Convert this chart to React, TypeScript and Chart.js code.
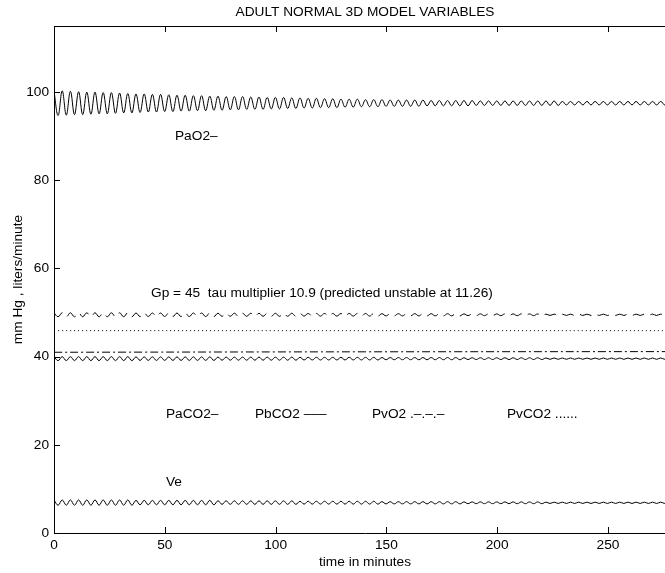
import { useEffect, useRef } from "react";
import { Chart, registerables } from "chart.js";

Chart.register(...registerables);

// ---- data (time in minutes, values in mm Hg or l/min) ----
// samples are taken at every half-cycle (successive peak / trough) of the oscillation
const HALF_CYCLE_MIN = 1.85;

const paO2 = [
  100.2, 94.7, 100.3, 94.8, 100.2, 94.9, 100.1, 94.9, 100.0, 95.0,
  100.0, 95.1, 99.9, 95.1, 99.9, 95.2, 99.8, 95.3, 99.7, 95.3,
  99.6, 95.4, 99.6, 95.5, 99.5, 95.5, 99.5, 95.6, 99.4, 95.6,
  99.3, 95.7, 99.3, 95.7, 99.2, 95.8, 99.2, 95.8, 99.1, 95.9,
  99.1, 95.9, 99.0, 96.0, 99.0, 96.0, 99.0, 96.1, 98.9, 96.1,
  98.9, 96.1, 98.8, 96.2, 98.8, 96.2, 98.8, 96.3, 98.7, 96.3,
  98.7, 96.4, 98.6, 96.4, 98.6, 96.5, 98.5, 96.5, 98.5, 96.5,
  98.4, 96.6, 98.4, 96.6, 98.4, 96.7, 98.3, 96.7, 98.3, 96.7,
  98.3, 96.8, 98.2, 96.8, 98.2, 96.8, 98.2, 96.8, 98.2, 96.8,
  98.2, 96.9, 98.1, 96.9, 98.1, 96.9, 98.1, 96.9, 98.1, 96.9,
  98.1, 96.9, 98.1, 97.0, 98.0, 97.0, 98.0, 97.0, 98.0, 97.0,
  98.0, 97.0, 98.0, 97.0, 98.0, 97.0, 98.0, 97.0, 98.0, 97.0,
  98.0, 97.0, 98.0, 97.0, 97.9, 97.1, 97.9, 97.1, 97.9, 97.1,
  97.9, 97.1, 97.9, 97.1, 97.9, 97.1, 97.9, 97.1, 97.9, 97.1,
  97.9, 97.1, 97.9, 97.1, 97.9, 97.1, 97.9, 97.1, 97.9, 97.1,
  97.9, 97.1, 97.85,
];

const pbCO2 = [
  49.95, 49.05, 49.95, 49.05, 49.95, 49.05, 49.95, 49.05, 49.95, 49.05,
  49.95, 49.05, 49.95, 49.05, 49.95, 49.05, 49.95, 49.05, 49.95, 49.05,
  49.9, 49.1, 49.9, 49.1, 49.9, 49.1, 49.9, 49.1, 49.9, 49.1,
  49.9, 49.1, 49.9, 49.1, 49.9, 49.1, 49.9, 49.1, 49.9, 49.1,
  49.85, 49.15, 49.85, 49.15, 49.85, 49.15, 49.85, 49.15, 49.85, 49.15,
  49.85, 49.15, 49.85, 49.15, 49.85, 49.15, 49.85, 49.15, 49.85, 49.15,
  49.8, 49.2, 49.8, 49.2, 49.8, 49.2, 49.8, 49.2, 49.8, 49.2,
  49.8, 49.2, 49.8, 49.2, 49.8, 49.2, 49.8, 49.2, 49.8, 49.2,
  49.75, 49.25, 49.75, 49.25, 49.75, 49.25, 49.75, 49.25, 49.75, 49.25,
  49.75, 49.25, 49.75, 49.25, 49.75, 49.25, 49.75, 49.25, 49.75, 49.25,
  49.7, 49.3, 49.7, 49.3, 49.7, 49.3, 49.7, 49.3, 49.7, 49.3,
  49.7, 49.3, 49.7, 49.3, 49.7, 49.3, 49.7, 49.3, 49.7, 49.3,
  49.65, 49.35, 49.65, 49.35, 49.65, 49.35, 49.65, 49.35, 49.65, 49.35,
  49.65, 49.35, 49.65, 49.35, 49.65, 49.35, 49.65, 49.35, 49.65, 49.35,
  49.65, 49.35, 49.65, 49.35, 49.65, 49.35, 49.65, 49.35, 49.65, 49.35,
  49.65, 49.35, 49.65,
];

const paCO2 = [
  40.0, 39.1, 40.0, 39.1, 40.0, 39.1, 40.0, 39.1, 40.0, 39.1,
  40.0, 39.1, 40.0, 39.1, 40.0, 39.1, 40.0, 39.1, 40.0, 39.1,
  39.95, 39.15, 39.95, 39.15, 39.95, 39.15, 39.95, 39.15, 39.95, 39.15,
  39.95, 39.15, 39.95, 39.15, 39.95, 39.15, 39.95, 39.15, 39.95, 39.15,
  39.9, 39.2, 39.9, 39.2, 39.9, 39.2, 39.9, 39.2, 39.9, 39.2,
  39.9, 39.2, 39.9, 39.2, 39.9, 39.2, 39.9, 39.2, 39.9, 39.2,
  39.85, 39.25, 39.85, 39.25, 39.85, 39.25, 39.85, 39.25, 39.85, 39.25,
  39.85, 39.25, 39.85, 39.25, 39.85, 39.25, 39.85, 39.25, 39.85, 39.25,
  39.8, 39.3, 39.8, 39.3, 39.8, 39.3, 39.8, 39.3, 39.8, 39.3,
  39.8, 39.3, 39.8, 39.3, 39.8, 39.3, 39.8, 39.3, 39.8, 39.3,
  39.75, 39.35, 39.75, 39.35, 39.75, 39.35, 39.75, 39.35, 39.75, 39.35,
  39.75, 39.35, 39.75, 39.35, 39.75, 39.35, 39.75, 39.35, 39.75, 39.35,
  39.7, 39.4, 39.7, 39.4, 39.7, 39.4, 39.7, 39.4, 39.7, 39.4,
  39.7, 39.4, 39.7, 39.4, 39.7, 39.4, 39.7, 39.4, 39.7, 39.4,
  39.7, 39.4, 39.7, 39.4, 39.7, 39.4, 39.7, 39.4, 39.7, 39.4,
  39.7, 39.4, 39.7,
];

const ve = [
  7.5, 6.3, 7.5, 6.3, 7.5, 6.3, 7.5, 6.3, 7.5, 6.3,
  7.5, 6.3, 7.5, 6.3, 7.5, 6.3, 7.5, 6.3, 7.5, 6.3,
  7.4, 6.4, 7.4, 6.4, 7.4, 6.4, 7.4, 6.4, 7.4, 6.4,
  7.4, 6.4, 7.4, 6.4, 7.4, 6.4, 7.4, 6.4, 7.4, 6.4,
  7.3, 6.5, 7.3, 6.5, 7.3, 6.5, 7.3, 6.5, 7.3, 6.5,
  7.3, 6.5, 7.3, 6.5, 7.3, 6.5, 7.3, 6.5, 7.3, 6.5,
  7.2, 6.55, 7.2, 6.55, 7.2, 6.55, 7.2, 6.55, 7.2, 6.55,
  7.2, 6.55, 7.2, 6.55, 7.2, 6.55, 7.2, 6.55, 7.2, 6.55,
  7.1, 6.6, 7.1, 6.6, 7.1, 6.6, 7.1, 6.6, 7.1, 6.6,
  7.1, 6.6, 7.1, 6.6, 7.1, 6.6, 7.1, 6.6, 7.1, 6.6,
  7.05, 6.65, 7.05, 6.65, 7.05, 6.65, 7.05, 6.65, 7.05, 6.65,
  7.05, 6.65, 7.05, 6.65, 7.05, 6.65, 7.05, 6.65, 7.05, 6.65,
  7.0, 6.7, 7.0, 6.7, 7.0, 6.7, 7.0, 6.7, 7.0, 6.7,
  7.0, 6.7, 7.0, 6.7, 7.0, 6.7, 7.0, 6.7, 7.0, 6.7,
  7.0, 6.7, 7.0, 6.7, 7.0, 6.7, 7.0, 6.7, 7.0, 6.7,
  7.0, 6.7, 7.0,
];

// nearly flat traces
const flatTimes = [0, 140, 281];
const pvCO2 = [45.9, 45.9, 45.9];
const pvO2 = [41.0, 41.1, 41.15];

// axis ranges and ticks
const X_MAX = 280.7;
const Y_MAX = 115;
const X_STEP = 50;
const Y_STEP = 20;

// text annotations (data coordinates)
const noteTexts = [
  "PaO2\u2013",
  "Gp = 45  tau multiplier 10.9 (predicted unstable at 11.26)",
  "PaCO2\u2013",
  "PbCO2 \u2013\u2013\u2013",
  "PvO2 .\u2013.\u2013.\u2013",
  "PvCO2 ......",
  "Ve",
];
const noteX = [54.6, 43.8, 50.5, 90.7, 143.5, 204.4, 50.5];
const noteY = [90, 54.5, 27, 27, 27, 27, 11.6];

const TITLE = "ADULT NORMAL 3D MODEL VARIABLES";
const X_TITLE = "time in minutes";
const Y_TITLE = "mm Hg , liters/minute";

const FONT_FAMILY = '"Liberation Sans", Arial, Helvetica, sans-serif';
const FONT_SIZE = 13.7;

const sampled = (vals: number[]) =>
  vals.map((v, i) => ({ x: i * HALF_CYCLE_MIN, y: v }));
const paired = (times: number[], vals: number[]) =>
  vals.map((v, i) => ({ x: times[i], y: v }));

const matlabFrame = {
  id: "matlabFrame",
  afterDraw(chart: any) {
    const { ctx, chartArea, scales } = chart;
    const { left, right, top, bottom } = chartArea;
    const xs = scales.x;
    const ys = scales.y;
    const TL = 6;
    ctx.save();
    ctx.strokeStyle = "#000";
    ctx.lineWidth = 1;
    ctx.beginPath();
    ctx.moveTo(left, Math.round(top) + 0.5);
    ctx.lineTo(right, Math.round(top) + 0.5);
    ctx.moveTo(Math.round(right) - 0.5, top);
    ctx.lineTo(Math.round(right) - 0.5, bottom);
    xs.ticks.forEach((t: any) => {
      const px = Math.round(xs.getPixelForValue(t.value)) + 0.5;
      ctx.moveTo(px, bottom);
      ctx.lineTo(px, bottom - TL);
      ctx.moveTo(px, top);
      ctx.lineTo(px, top + TL);
    });
    ys.ticks.forEach((t: any) => {
      const py = Math.round(ys.getPixelForValue(t.value)) + 0.5;
      ctx.moveTo(left, py);
      ctx.lineTo(left + TL, py);
      ctx.moveTo(right, py);
      ctx.lineTo(right - TL, py);
    });
    ctx.stroke();

    ctx.fillStyle = "#000";
    ctx.font = `${FONT_SIZE}px ${FONT_FAMILY}`;
    ctx.textAlign = "left";
    ctx.textBaseline = "middle";
    noteTexts.forEach((txt, i) => {
      ctx.fillText(txt, xs.getPixelForValue(noteX[i]), ys.getPixelForValue(noteY[i]));
    });
    ctx.restore();
  },
};

export default function App() {
  const ref = useRef<HTMLCanvasElement | null>(null);

  useEffect(() => {
    if (!ref.current) return;
    const font = { family: FONT_FAMILY, size: FONT_SIZE };
    const line = (label: string, data: any[], dash: number[]) => ({
      label,
      data,
      borderColor: "#000",
      borderWidth: 1,
      borderDash: dash,
      pointRadius: 0,
      fill: false,
      tension: 0.4,
    });
    const chart = new Chart(ref.current, {
      type: "line",
      data: {
        datasets: [
          line("PaO2", sampled(paO2), []),
          line("PbCO2", sampled(pbCO2), [12, 6.5]),
          line("PvCO2", paired(flatTimes, pvCO2), [1, 3]),
          line("PvO2", paired(flatTimes, pvO2), [8, 3, 2, 3]),
          line("PaCO2", sampled(paCO2), []),
          line("Ve", sampled(ve), []),
        ],
      },
      options: {
        animation: false,
        responsive: false,
        events: [],
        layout: { padding: 0 },
        plugins: {
          legend: { display: false },
          tooltip: { enabled: false },
          title: {
            display: true,
            text: TITLE,
            color: "#000",
            font: { ...font, weight: "normal" },
            fullSize: false,
            padding: { top: 4, bottom: 5.6 },
          },
        },
        scales: {
          x: {
            type: "linear",
            min: 0,
            max: X_MAX,
            grid: { display: false, drawTicks: false },
            border: { display: true, color: "#000", width: 1 },
            ticks: {
              stepSize: X_STEP,
              includeBounds: false,
              autoSkip: false,
              maxRotation: 0,
              color: "#000",
              font,
              padding: 4,
            },
            title: {
              display: true,
              text: X_TITLE,
              color: "#000",
              font,
              padding: { top: 0, bottom: 3 },
            },
            afterFit: (s: any) => {
              s.height = 40;
            },
          },
          y: {
            type: "linear",
            min: 0,
            max: Y_MAX,
            grid: { display: false, drawTicks: false },
            border: { display: true, color: "#000", width: 1 },
            ticks: {
              stepSize: Y_STEP,
              includeBounds: false,
              color: "#000",
              font,
              padding: 5,
            },
            title: {
              display: true,
              text: Y_TITLE,
              color: "#000",
              font,
              padding: { top: 10, bottom: 0 },
            },
            afterFit: (s: any) => {
              s.width = 54;
            },
          },
        },
      } as any,
      plugins: [matlabFrame],
    });
    return () => chart.destroy();
  }, []);

  return (
    <div
      style={{
        position: "fixed",
        left: 0,
        top: 0,
        width: 665,
        height: 573,
        overflow: "hidden",
        background: "#fff",
      }}
    >
      <canvas ref={ref} width={676} height={573} style={{ display: "block" }} />
    </div>
  );
}
